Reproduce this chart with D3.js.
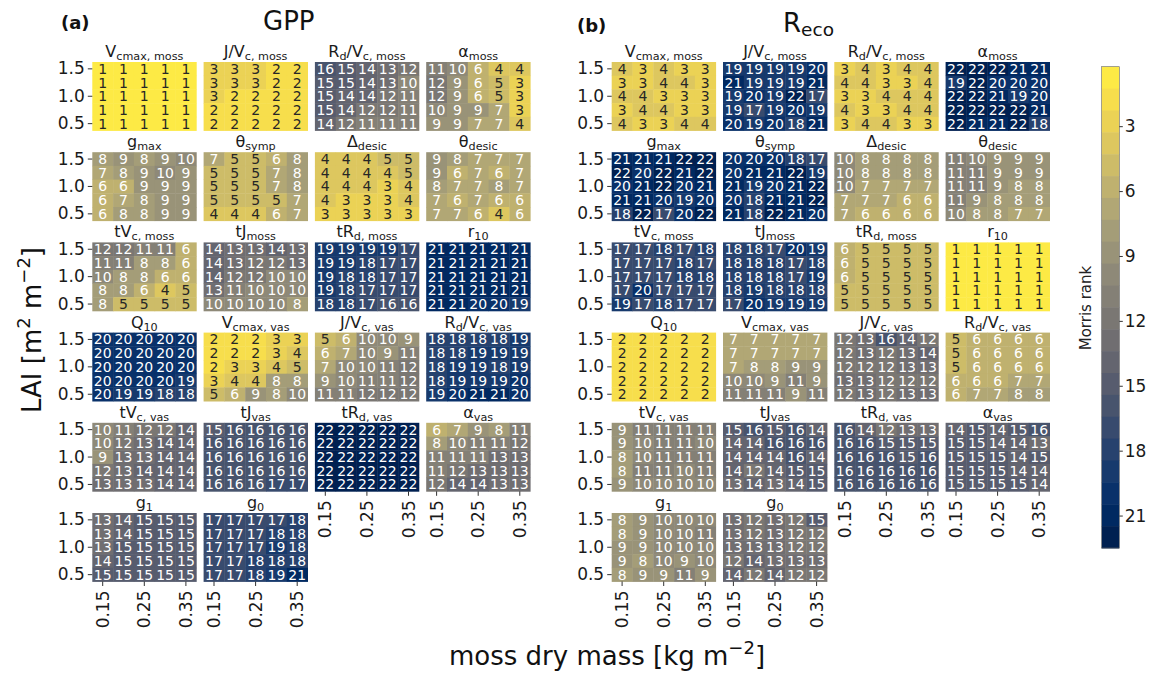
<!DOCTYPE html>
<html>
<head>
<meta charset="utf-8">
<script src="https://cdn.jsdelivr.net/npm/d3@7"></script>
<style>
  html, body { margin: 0; padding: 0; background: #fff; }
  svg { display: block; font-family: "DejaVu Sans", sans-serif; }
</style>
</head>
<body>
<svg id="chart" width="1162" height="676"></svg>
<script>
// ---------------- DATA ----------------
const masses = [0.15, 0.20, 0.25, 0.30, 0.35];          // moss dry mass (columns)
const lai = [1.5, 1.25, 1.0, 0.75, 0.5];                 // LAI (rows, top to bottom)
const massTicks = [0.15, 0.25, 0.35];
const laiTicks = [1.5, 1.0, 0.5];
const cbarTicks = [3, 6, 9, 12, 15, 18, 21];

// parameter titles: [text, isSubscript]
const paramTitles = [
  [["V",0],["cmax, moss",1]],
  [["J/V",0],["c, moss",1]],
  [["R",0],["d",1],["/V",0],["c, moss",1]],
  [["α",0],["moss",1]],
  [["g",0],["max",1]],
  [["θ",0],["symp",1]],
  [["Δ",0],["desic",1]],
  [["θ",0],["desic",1]],
  [["tV",0],["c, moss",1]],
  [["tJ",0],["moss",1]],
  [["tR",0],["d, moss",1]],
  [["r",0],["10",1]],
  [["Q",0],["10",1]],
  [["V",0],["cmax, vas",1]],
  [["J/V",0],["c, vas",1]],
  [["R",0],["d",1],["/V",0],["c, vas",1]],
  [["tV",0],["c, vas",1]],
  [["tJ",0],["vas",1]],
  [["tR",0],["d, vas",1]],
  [["α",0],["vas",1]],
  [["g",0],["1",1]],
  [["g",0],["0",1]]
];

// Morris ranks for GPP, one 5x5 matrix per parameter (rows: LAI 1.5 -> 0.5)
const gppRanks = [
  [[1,1,1,1,1],[1,1,1,1,1],[1,1,1,1,1],[1,1,1,1,1],[1,1,1,1,1]],
  [[3,3,3,2,2],[3,3,3,2,2],[3,2,2,2,2],[2,2,2,2,2],[2,2,2,2,2]],
  [[16,15,14,13,12],[15,15,14,13,10],[15,14,14,12,11],[15,14,12,12,11],[14,12,11,11,11]],
  [[11,10,6,4,4],[12,9,6,5,3],[12,9,6,5,3],[10,9,9,7,3],[9,9,7,7,4]],
  [[8,9,8,9,10],[7,8,9,10,9],[6,6,9,9,9],[6,7,8,9,9],[6,8,8,9,9]],
  [[7,5,5,6,8],[5,5,5,7,8],[5,5,5,7,8],[5,5,5,5,7],[4,4,4,6,7]],
  [[4,4,4,5,5],[4,4,4,4,5],[4,4,4,3,4],[4,3,3,3,4],[3,3,3,3,3]],
  [[9,8,7,7,7],[9,6,7,6,7],[8,7,7,8,7],[7,6,7,6,6],[7,7,6,4,6]],
  [[12,12,11,11,6],[11,11,8,8,6],[10,8,8,6,6],[8,8,6,4,5],[8,5,5,5,5]],
  [[14,13,13,14,13],[14,13,12,12,13],[14,12,12,10,10],[13,11,10,10,10],[10,10,10,10,8]],
  [[19,19,19,19,17],[19,19,18,17,17],[19,18,18,17,17],[19,18,17,17,17],[18,18,17,16,16]],
  [[21,21,21,21,21],[21,21,21,21,21],[21,21,21,21,21],[21,21,21,21,21],[21,21,20,20,19]],
  [[20,20,20,20,20],[20,20,20,20,20],[20,20,20,20,20],[20,20,20,20,19],[20,19,19,18,18]],
  [[2,2,2,3,3],[2,2,2,3,4],[2,3,3,4,5],[3,4,4,8,8],[5,6,9,8,10]],
  [[5,6,10,10,9],[6,7,10,9,11],[7,10,10,11,12],[9,10,11,11,12],[11,11,12,12,12]],
  [[18,18,18,18,19],[18,18,19,19,19],[18,19,19,18,19],[18,19,19,19,20],[19,20,21,21,20]],
  [[10,11,12,12,14],[10,12,13,14,14],[9,13,13,14,14],[12,13,14,14,14],[13,13,13,14,14]],
  [[15,16,16,16,16],[16,16,16,16,16],[16,16,16,16,16],[16,16,16,16,16],[16,16,16,17,17]],
  [[22,22,22,22,22],[22,22,22,22,22],[22,22,22,22,22],[22,22,22,22,22],[22,22,22,22,22]],
  [[6,7,9,8,11],[8,10,11,11,12],[11,11,11,13,13],[11,12,13,13,13],[12,14,14,13,13]],
  [[13,14,15,15,15],[13,14,15,15,15],[13,15,15,15,15],[14,15,15,15,15],[15,15,15,15,15]],
  [[17,17,17,17,18],[17,17,17,18,18],[17,17,17,19,18],[17,17,18,18,18],[17,17,18,19,21]]
];

// Morris ranks for Reco
const recoRanks = [
  [[4,3,4,3,3],[3,3,4,4,3],[4,4,3,3,3],[3,4,4,3,3],[4,3,3,4,4]],
  [[19,19,19,19,20],[21,19,19,19,21],[19,20,19,22,17],[19,17,19,20,19],[20,19,20,18,21]],
  [[3,4,3,4,4],[4,4,3,3,4],[3,3,4,4,4],[4,3,3,4,4],[3,4,4,3,3]],
  [[22,22,22,21,21],[19,22,20,20,20],[22,22,21,19,20],[22,22,22,22,21],[22,21,21,22,18]],
  [[21,21,21,22,22],[22,20,22,21,22],[20,21,22,20,21],[21,21,20,19,20],[18,22,17,20,22]],
  [[20,20,20,18,17],[20,21,21,22,19],[21,19,20,21,22],[20,18,21,21,22],[21,18,22,21,20]],
  [[10,8,8,8,8],[10,8,8,8,8],[10,7,7,7,7],[7,7,7,6,6],[7,6,6,6,6]],
  [[11,10,9,9,9],[11,11,9,9,9],[11,11,9,8,8],[11,9,8,8,8],[10,8,8,7,7]],
  [[17,17,18,17,18],[17,17,17,18,17],[17,17,17,18,18],[17,20,17,17,17],[19,17,18,17,17]],
  [[18,18,17,20,19],[18,18,18,17,18],[18,18,18,17,19],[18,19,18,18,18],[17,20,19,19,19]],
  [[6,5,5,5,5],[6,5,5,5,5],[6,5,5,5,5],[5,5,5,5,5],[5,5,5,5,5]],
  [[1,1,1,1,1],[1,1,1,1,1],[1,1,1,1,1],[1,1,1,1,1],[1,1,1,1,1]],
  [[2,2,2,2,2],[2,2,2,2,2],[2,2,2,2,2],[2,2,2,2,2],[2,2,2,2,2]],
  [[7,7,7,7,7],[7,7,7,7,7],[7,8,8,9,9],[10,10,9,11,9],[11,11,11,9,11]],
  [[12,13,16,14,12],[12,13,12,13,14],[12,12,12,13,13],[13,13,12,12,12],[12,13,12,13,13]],
  [[5,6,6,6,6],[5,6,6,6,6],[5,6,6,6,6],[6,6,6,7,7],[6,7,7,8,8]],
  [[9,11,11,11,11],[9,10,11,11,10],[8,10,11,11,11],[8,11,11,10,11],[9,10,10,10,10]],
  [[15,16,15,16,14],[14,14,16,16,16],[14,14,14,16,14],[14,12,14,15,15],[13,14,13,14,15]],
  [[16,14,12,13,13],[16,16,15,15,15],[16,16,16,15,16],[16,16,16,16,16],[16,16,16,16,16]],
  [[14,15,14,15,16],[15,15,14,14,13],[15,15,15,14,15],[15,15,15,14,14],[15,15,15,15,14]],
  [[8,9,10,10,10],[8,9,10,10,11],[9,9,10,10,10],[9,8,10,9,10],[8,9,9,11,9]],
  [[13,12,13,12,15],[13,12,13,12,12],[13,13,13,12,12],[12,14,13,13,13],[14,12,14,12,12]]
];

// ---------------- LAYOUT ----------------
const svg = d3.select("#chart");
svg.append("rect").attr("width", 1162).attr("height", 676).attr("fill", "#fff");

const hmW = 104, hmH = 68.5;
const colPitch = 111.3, rowPitch = 90.2, top0 = 62;
const nCols = 4;

const color = d3.scaleSequential(d3.interpolateCividis).domain([22, 1]).clamp(true);

const x = d3.scaleBand().domain(masses).range([0, hmW]);
const y = d3.scaleBand().domain(lai).range([0, hmH]);

function drawPanel(originX, ranks) {
  const g = svg.append("g");
  ranks.forEach((mat, k) => {
    const ci = k % nCols, ri = Math.floor(k / nCols);
    const hx = originX + ci * colPitch, hy = top0 + ri * rowPitch;
    const hg = g.append("g").attr("transform", `translate(${hx},${hy})`);

    const cells = [];
    mat.forEach((row, i) => row.forEach((v, j) => cells.push({ l: lai[i], m: masses[j], v })));

    hg.selectAll("rect.cell").data(cells).join("rect")
      .attr("class", "cell")
      .attr("x", d => x(d.m)).attr("y", d => y(d.l))
      .attr("width", x.bandwidth() + 0.4).attr("height", y.bandwidth() + 0.4)
      .attr("fill", d => color(d.v));

    hg.selectAll("text.val").data(cells).join("text")
      .attr("class", "val")
      .attr("x", d => x(d.m) + x.bandwidth() / 2)
      .attr("y", d => y(d.l) + y.bandwidth() / 2)
      .attr("dy", "0.36em")
      .attr("text-anchor", "middle")
      .attr("font-size", 14)
      .attr("fill", d => d.v <= 5 ? "#262626" : "#ffffff")
      .text(d => d.v);

    // title
    const t = hg.append("text")
      .attr("x", hmW / 2).attr("y", -5)
      .attr("text-anchor", "middle")
      .attr("font-size", 16).attr("fill", "#1a1a1a");
    let shifted = false;
    paramTitles[k].forEach(([txt, sub]) => {
      const ts = t.append("tspan").text(txt);
      if (sub && !shifted) { ts.attr("dy", 3).attr("font-size", 11.2); shifted = true; }
      else if (sub) { ts.attr("font-size", 11.2); }
      else if (!sub && shifted) { ts.attr("dy", -3); shifted = false; }
    });

    // y axis on first column
    if (ci === 0) {
      const ay = hg.append("g").call(
        d3.axisLeft(y).tickValues(laiTicks).tickFormat(d3.format(".1f")).tickSize(4.5).tickPadding(3));
      ay.select(".domain").remove();
      ay.selectAll("line").attr("stroke", "#333");
      ay.selectAll("text").attr("font-size", 17).attr("fill", "#1a1a1a").attr("font-family", "DejaVu Sans");
    }
    // x axis where nothing below
    if (k + nCols >= ranks.length) {
      const ax = hg.append("g").attr("transform", `translate(0,${hmH})`).call(
        d3.axisBottom(x).tickValues(massTicks).tickFormat(d3.format(".2f")).tickSize(4.5).tickPadding(3));
      ax.select(".domain").remove();
      ax.selectAll("line").attr("stroke", "#333");
      ax.selectAll("text")
        .attr("font-size", 17).attr("fill", "#1a1a1a").attr("font-family", "DejaVu Sans")
        .attr("transform", "rotate(-90)")
        .attr("text-anchor", "end")
        .attr("x", -9).attr("y", 0).attr("dy", "0.36em");
    }
  });
}

drawPanel(92.3, gppRanks);
drawPanel(611.7, recoRanks);

// panel labels & titles
svg.append("text").attr("x", 61).attr("y", 29).attr("font-size", 18).attr("font-weight", "bold")
  .attr("fill", "#111").text("(a)");
svg.append("text").attr("x", 263).attr("y", 30).attr("font-size", 26).attr("fill", "#111").text("GPP");
svg.append("text").attr("x", 577).attr("y", 32).attr("font-size", 18).attr("font-weight", "bold")
  .attr("fill", "#111").text("(b)");
const rt = svg.append("text").attr("x", 783).attr("y", 32).attr("font-size", 26).attr("fill", "#111");
rt.append("tspan").text("R");
rt.append("tspan").attr("dy", 4).attr("font-size", 18.5).text("eco");

// axis labels
const yl = svg.append("text").attr("transform", "translate(41,330) rotate(-90)")
  .attr("text-anchor", "middle").attr("font-size", 26).attr("fill", "#111");
yl.append("tspan").text("LAI [m");
yl.append("tspan").attr("dy", -11).attr("font-size", 18).text("2");
yl.append("tspan").attr("dy", 11).text(" m");
yl.append("tspan").attr("dy", -11).attr("font-size", 18).text("−2");
yl.append("tspan").attr("dy", 11).text("]");

const xl = svg.append("text").attr("x", 607).attr("y", 665)
  .attr("text-anchor", "middle").attr("font-size", 26).attr("fill", "#111");
xl.append("tspan").text("moss dry mass [kg m");
xl.append("tspan").attr("dy", -11).attr("font-size", 18).text("−2");
xl.append("tspan").attr("dy", 11).text("]");

// ---------------- COLORBAR ----------------
const cbX = 1101.7, cbW = 17.6;
const cbY = d3.scaleLinear().domain([0.25, 22.5]).range([66.7, 548]);
const ranksAll = d3.range(1, 23);
const bandH = (22.5 - 0.25) / 22;
const cb = svg.append("g");
cb.selectAll("rect").data(ranksAll).join("rect")
  .attr("x", cbX)
  .attr("y", r => cbY(0.25 + (r - 1) * bandH))
  .attr("width", cbW)
  .attr("height", r => cbY(0.25 + r * bandH) - cbY(0.25 + (r - 1) * bandH) + 0.5)
  .attr("fill", r => color(r));
cb.append("rect").attr("x", cbX).attr("y", cbY(0.25)).attr("width", cbW)
  .attr("height", cbY(22.5) - cbY(0.25)).attr("fill", "none").attr("stroke", "#666").attr("stroke-width", 0.6);
const cax = svg.append("g").attr("transform", `translate(${cbX + cbW},0)`)
  .call(d3.axisRight(cbY).tickValues(cbarTicks).tickSize(3.5).tickPadding(2));
cax.select(".domain").remove();
cax.selectAll("line").attr("stroke", "#333");
cax.selectAll("text").attr("font-size", 17).attr("fill", "#1a1a1a").attr("font-family", "DejaVu Sans");
svg.append("text").attr("transform", "translate(1091,308) rotate(-90)")
  .attr("text-anchor", "middle").attr("font-size", 15).attr("fill", "#222").text("Morris rank");
</script>
</body>
</html>
